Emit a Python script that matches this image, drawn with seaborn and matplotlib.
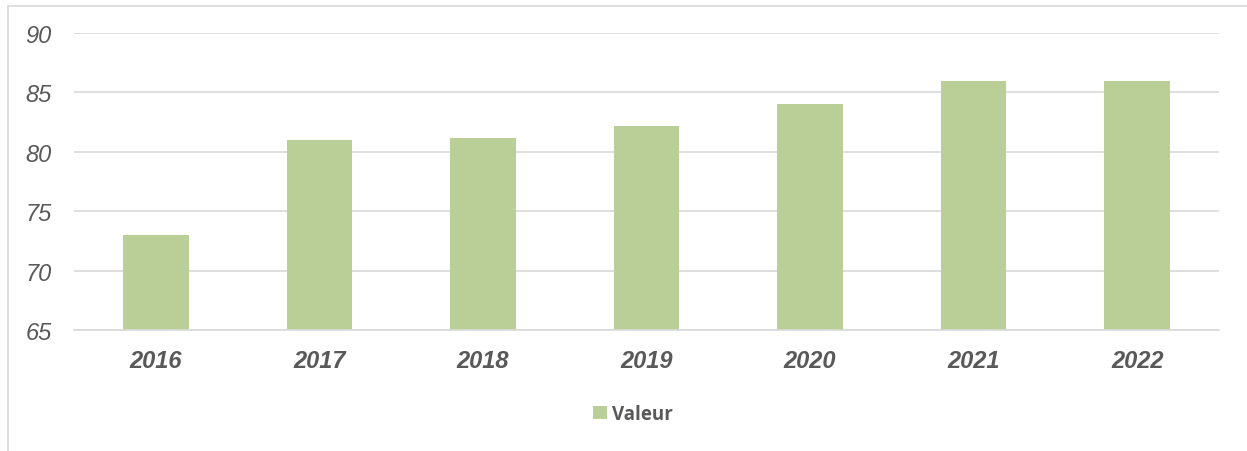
import matplotlib
matplotlib.use("Agg")
import matplotlib.pyplot as plt
from matplotlib.lines import Line2D
import seaborn as sns
import pandas as pd

years = ["2016", "2017", "2018", "2019", "2020", "2021", "2022"]
values = [73.0, 81.0, 81.2, 82.2, 84.0, 86.0, 86.0]
series_name = "Valeur"
y_ticks = [65, 70, 75, 80, 85, 90]

sns.set_theme(style="white")
plt.rcParams["font.family"] = ["Liberation Sans", "DejaVu Sans"]

W, H = 1247, 452
fig = plt.figure(figsize=(W / 100, H / 100), dpi=100)
ax = fig.add_axes([74 / W, 1 - 331 / H, (1219 - 74) / W, (331 - 34) / H])

df = pd.DataFrame({"Année": years, "Valeur": values, "Série": [series_name] * len(years)})
bar_color = "#BACF97"
sns.barplot(data=df, x="Année", y="Valeur", hue="Série", palette=[bar_color],
            width=0.4, ax=ax, legend=True, saturation=1, linewidth=0, edgecolor="none")

grid_c = "#D9D9D9"
ax.set_ylim(65, 90)
ax.set_yticks(y_ticks)
ax.yaxis.grid(True, color=grid_c, linewidth=1.2, zorder=0)
ax.set_axisbelow(True)
for s in ["top", "right", "left"]:
    ax.spines[s].set_visible(False)
ax.spines["bottom"].set_color(grid_c)
ax.spines["bottom"].set_linewidth(1.2)
ax.set_xlabel("")
ax.set_ylabel("")
ax.tick_params(axis="both", length=0)
ax.tick_params(axis="y", pad=16)
ax.tick_params(axis="x", pad=14)
txt_c = "#595959"
for lab in ax.get_yticklabels():
    lab.set_fontsize(17)
    lab.set_fontstyle("italic")
    lab.set_color(txt_c)
for lab in ax.get_xticklabels():
    lab.set_fontsize(17)
    lab.set_fontstyle("italic")
    lab.set_fontweight("bold")
    lab.set_color(txt_c)

handles, labels = ax.get_legend_handles_labels()
ax.get_legend().remove()
leg = fig.legend(handles, labels, loc="center", bbox_to_anchor=(633 / W, 1 - 415 / H),
                 frameon=False, handlelength=0.72, handleheight=0.72, handletextpad=0.3,
                 prop={"family": "Open Sans", "weight": "bold", "size": 13.5})
for t in leg.get_texts():
    t.set_color(txt_c)

# outer chart-area border (top and left visible)
fig.add_artist(Line2D([7.5 / W, 1], [1 - 6.5 / H, 1 - 6.5 / H], transform=fig.transFigure,
                      color=grid_c, linewidth=1.2))
fig.add_artist(Line2D([7.5 / W, 7.5 / W], [1 - 6.5 / H, 0], transform=fig.transFigure,
                      color=grid_c, linewidth=1.2))

fig.savefig("out.png", dpi=100, facecolor="white")
